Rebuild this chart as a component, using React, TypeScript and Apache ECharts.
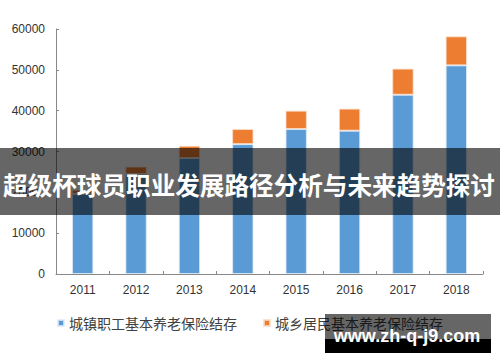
import React, { useEffect, useRef } from "react";
import * as echarts from "echarts";

const years = ["2011", "2012", "2013", "2014", "2015", "2016", "2017", "2018"];
const urbanWorkers = [19600, 24500, 28400, 31800, 35500, 35100, 43900, 51100];
const ruralResidents = [1000, 1800, 3000, 3700, 4500, 5400, 6400, 7100];
const seriesNames = ["城镇职工基本养老保险结存", "城乡居民基本养老保险结存"];
const bannerTitle = "超级杯球员职业发展路径分析与未来趋势探讨";
const watermark = "www.zh-q-j9.com";

export default function App() {
  const ref = useRef<HTMLDivElement>(null);
  useEffect(() => {
    document.body.style.margin = "0";
    if (!ref.current) return;
    const chart = echarts.init(ref.current, null, { renderer: "svg" });
    const axisLine = { show: true, lineStyle: { color: "#898989", width: 1 } };
    const labelStyle = { color: "#333", fontSize: 12, fontFamily: "Liberation Sans, Arial, sans-serif" };
    chart.setOption({
      animation: false,
      grid: { left: 56, right: 17, top: 29, bottom: 88 },
      legend: {
        top: 311,
        left: "center",
        itemWidth: 6,
        itemHeight: 6,
        itemGap: 26,
        icon: "rect",
        textStyle: { color: "#404040", fontSize: 14, fontFamily: "Noto Sans CJK SC" },
        data: seriesNames,
      },
      xAxis: {
        type: "category",
        data: years,
        axisLine,
        axisTick: { show: true, inside: true, length: 3, lineStyle: { color: "#898989" } },
        axisLabel: { ...labelStyle, margin: 10 },
      },
      yAxis: {
        type: "value",
        min: 0,
        max: 60000,
        interval: 10000,
        axisLine,
        axisTick: { show: true, inside: true, length: 3, lineStyle: { color: "#898989" } },
        splitLine: { show: false },
        axisLabel: { ...labelStyle, margin: 11, formatter: (v: number) => String(v) },
      },
      series: [
        {
          name: seriesNames[0],
          type: "bar",
          stack: "total",
          barWidth: "40%",
          data: urbanWorkers,
          itemStyle: { color: "#5B9BD5", borderColor: "rgba(220,235,250,0.8)", borderWidth: 1 },
        },
        {
          name: seriesNames[1],
          type: "bar",
          stack: "total",
          barWidth: "40%",
          data: ruralResidents,
          itemStyle: { color: "#ED7D31", borderColor: "rgba(250,220,200,0.8)", borderWidth: 1 },
        },
      ],
      graphic: [
        {
          type: "rect",
          z: 100,
          shape: { x: 0, y: 148, width: 500, height: 67 },
          style: { fill: "rgba(0,0,0,0.6)" },
        },
        {
          type: "text",
          z: 101,
          x: 249,
          y: 184,
          style: {
            text: bannerTitle,
            fill: "#fff",
            font: "bold 24.6px 'Noto Sans CJK SC'",
            align: "center",
            verticalAlign: "middle",
          },
        },
        {
          type: "rect",
          z: 100,
          shape: { x: 325, y: 314, width: 166, height: 25 },
          style: { fill: "rgba(0,0,0,0.6)" },
        },
        {
          type: "rect",
          z: 100,
          shape: { x: 325, y: 339, width: 166, height: 14 },
          style: { fill: "#000" },
        },
        {
          type: "text",
          z: 101,
          x: 407,
          y: 336,
          style: {
            text: watermark,
            fill: "#fff",
            font: "bold 18px 'Liberation Sans', Arial, sans-serif",
            align: "center",
            verticalAlign: "middle",
          },
        },
      ],
    });
    return () => chart.dispose();
  }, []);
  return <div ref={ref} style={{ width: 500, height: 362 }} />;
}
